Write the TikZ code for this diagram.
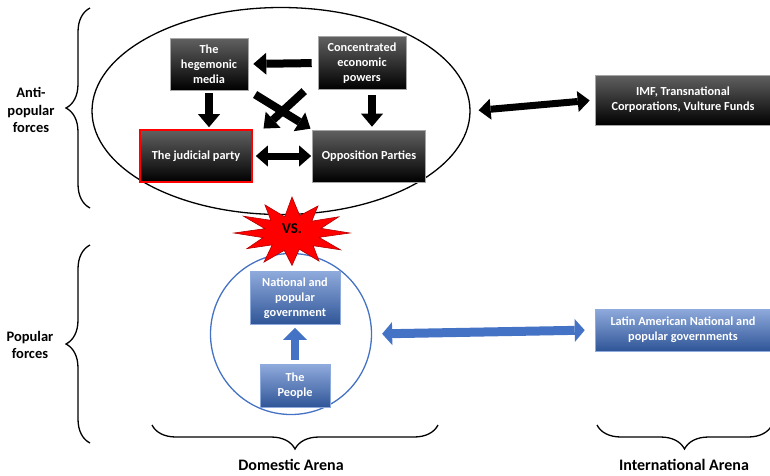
\documentclass[tikz,border=0pt]{standalone}
\usepackage{fontspec}
\setmainfont{Carlito}
\usetikzlibrary{arrows.meta,shapes.geometric,decorations.pathreplacing,positioning}
\definecolor{popblue}{HTML}{4472C4}
\definecolor{popbluelight}{HTML}{8FAADC}
\definecolor{popbluedark}{HTML}{2F5597}
\tikzset{
  darkbox/.style={top color=black!62, bottom color=black, draw=black!35, line width=0.6pt,
    text=white, align=center, inner sep=2pt, font=\fontsize{12.3}{15}\selectfont\bfseries},
  bluebox/.style={top color=popbluelight, bottom color=popbluedark, draw=popbluelight, line width=0.6pt,
    text=white, align=center, inner sep=2pt, font=\fontsize{12.3}{15}\selectfont\bfseries},
  sidelabel/.style={align=center, font=\fontsize{14.5}{17.5}\selectfont\bfseries},
  arenalabel/.style={font=\fontsize{16}{19}\selectfont\bfseries},
  blockarrow/.style={black, line width=8pt, -{Triangle[length=13pt,width=22pt,line width=0pt]}},
  twoarrow/.style={black, line width=7pt, {Triangle[length=12pt,width=21pt,line width=0pt]}-{Triangle[length=12pt,width=21pt,line width=0pt]}},
  bluetwoarrow/.style={popblue, line width=9pt, {Triangle[length=10pt,width=23pt,line width=0pt]}-{Triangle[length=10pt,width=23pt,line width=0pt]}},
  blueup/.style={popblue, line width=8pt, -{Triangle[length=12pt,width=24pt,line width=0pt]}},
  curly/.style={decorate, decoration={brace, amplitude=24pt}, line width=1.3pt},
  vsstar/.style={fill=red, draw=red!70!black, line width=0.6pt}
}
\begin{document}
\begin{tikzpicture}[x=1pt,y=-1pt]
\useasboundingbox (0,0) rectangle (770,475);
% anti-popular forces
\node[draw, ellipse, line width=1.3pt, minimum width=378pt, minimum height=207pt] (anti) at (281,111) {};
\node[darkbox, minimum width=78pt, minimum height=52pt] (media) at (209,64) {The\\hegemonic\\media};
\node[darkbox, minimum width=88pt, minimum height=53pt] (conc) at (362,63) {Concentrated\\economic\\powers};
\node[darkbox, draw=red, line width=1.6pt, minimum width=112pt, minimum height=52pt] (jud) at (196,156) {The judicial party};
\node[darkbox, minimum width=113pt, minimum height=52pt] (opp) at (369,156) {Opposition Parties};
\node[darkbox, minimum width=176pt, minimum height=50pt] (imf) at (683,100) {IMF, Transnational\\Corporations, Vulture Funds};

\draw[blockarrow, shorten <=6pt, shorten >=5pt] (conc.west) -- (media.east);
\draw[blockarrow, shorten <=3pt, shorten >=2pt] (media.south) -- (media.south |- jud.north);
\draw[blockarrow, shorten <=5pt, shorten >=3pt] ([xshift=10pt]conc.south) -- ([xshift=10pt]conc.south |- opp.north);
\draw[blockarrow, shorten <=8pt, shorten >=2pt] (media.south east) -- (opp.north west);
\draw[blockarrow, shorten <=2pt, shorten >=1pt] ([xshift=-12pt]conc.south west) -- ([xshift=10pt]jud.north east);
\draw[twoarrow, shorten <=3pt, shorten >=1pt] (jud.east) -- (opp.west);
\draw[twoarrow, shorten <=8pt, shorten >=5pt] (anti.east) -- (imf.west);

% popular forces
\node[draw=popblue, circle, line width=1.3pt, minimum size=161pt] (pop) at (291,334) {};
\node[bluebox, minimum width=90pt, minimum height=53pt] (gov) at (295,298) {National and\\popular\\government};
\node[bluebox, minimum width=70pt, minimum height=43pt] (people) at (295,386) {The\\People};
\node[bluebox, minimum width=176pt, minimum height=42pt] (latam) at (683,330) {Latin American National and\\popular governments};
\draw[blueup, shorten <=4pt, shorten >=3pt] (people.north) -- (gov.south);
\draw[bluetwoarrow, shorten <=10pt, shorten >=10pt] (pop.east) -- (latam.west);

% the clash
\filldraw[vsstar, shift={(292,233)}, yscale=0.6] (0:58pt)
  \foreach \a/\r in {15/30,30/54,45/28,60/52,75/30,90/60,105/28,120/54,135/30,150/56,165/28,
    180/58,195/30,210/52,225/28,240/56,255/30,270/54,285/28,300/54,315/30,330/56,345/28} { -- (\a:\r pt) } -- cycle;
\node[font=\fontsize{15}{18}\selectfont\bfseries] (vs) at (292,229) {VS.};

% braces and labels
\draw[curly] (90,208) -- (90,8);
\draw[curly] (90,443) -- (90,245);
\draw[curly] (438,425) -- (152,425);
\draw[curly] (772,425) -- (597,425);
\node[sidelabel] (antilbl) at (31,110) {Anti-\\popular\\forces};
\node[sidelabel] (poplbl) at (30,345) {Popular\\forces};
\node[arenalabel] (domestic) at (291,465) {Domestic Arena};
\node[arenalabel] (international) at (684,465) {International Arena};
\end{tikzpicture}
\end{document}
